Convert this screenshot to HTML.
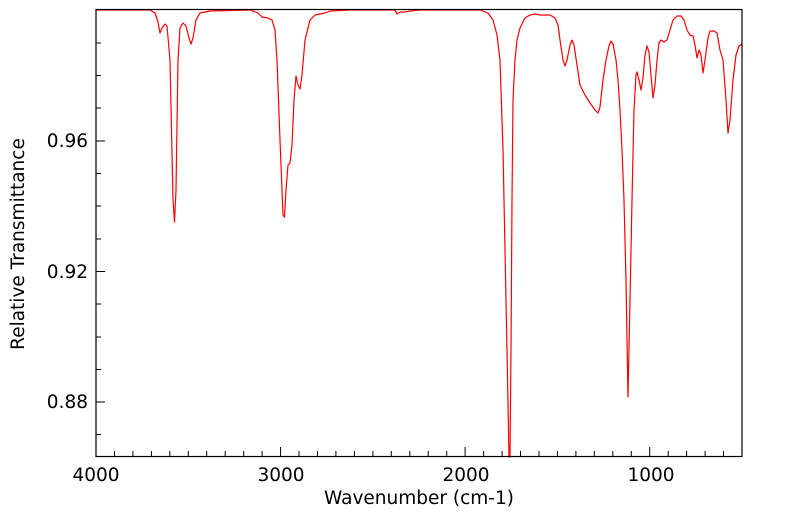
<!DOCTYPE html>
<html><head><style>body{margin:0;background:#fff}svg{display:block}text{font-family:"DejaVu Sans","Liberation Sans",sans-serif;fill:#000}</style></head>
<body>
<svg width="799" height="516" viewBox="0 0 799 516">
<g stroke="#000" stroke-width="1">
<line x1="96" y1="456" x2="96" y2="447"/><line x1="114.5" y1="456" x2="114.5" y2="451"/><line x1="132.9" y1="456" x2="132.9" y2="451"/><line x1="151.4" y1="456" x2="151.4" y2="451"/><line x1="169.8" y1="456" x2="169.8" y2="451"/><line x1="188.3" y1="456" x2="188.3" y2="451"/><line x1="206.7" y1="456" x2="206.7" y2="451"/><line x1="225.2" y1="456" x2="225.2" y2="451"/><line x1="243.7" y1="456" x2="243.7" y2="451"/><line x1="262.1" y1="456" x2="262.1" y2="451"/><line x1="280.6" y1="456" x2="280.6" y2="447"/><line x1="299" y1="456" x2="299" y2="451"/><line x1="317.5" y1="456" x2="317.5" y2="451"/><line x1="335.9" y1="456" x2="335.9" y2="451"/><line x1="354.4" y1="456" x2="354.4" y2="451"/><line x1="372.9" y1="456" x2="372.9" y2="451"/><line x1="391.3" y1="456" x2="391.3" y2="451"/><line x1="409.8" y1="456" x2="409.8" y2="451"/><line x1="428.2" y1="456" x2="428.2" y2="451"/><line x1="446.7" y1="456" x2="446.7" y2="451"/><line x1="465.1" y1="456" x2="465.1" y2="447"/><line x1="483.6" y1="456" x2="483.6" y2="451"/><line x1="502.1" y1="456" x2="502.1" y2="451"/><line x1="520.5" y1="456" x2="520.5" y2="451"/><line x1="539" y1="456" x2="539" y2="451"/><line x1="557.4" y1="456" x2="557.4" y2="451"/><line x1="575.9" y1="456" x2="575.9" y2="451"/><line x1="594.3" y1="456" x2="594.3" y2="451"/><line x1="612.8" y1="456" x2="612.8" y2="451"/><line x1="631.3" y1="456" x2="631.3" y2="451"/><line x1="649.7" y1="456" x2="649.7" y2="447"/><line x1="668.2" y1="456" x2="668.2" y2="451"/><line x1="686.6" y1="456" x2="686.6" y2="451"/><line x1="705.1" y1="456" x2="705.1" y2="451"/><line x1="723.5" y1="456" x2="723.5" y2="451"/>
<line x1="96" y1="43" x2="101" y2="43"/><line x1="96" y1="75.5" x2="101" y2="75.5"/><line x1="96" y1="108" x2="101" y2="108"/><line x1="96" y1="141" x2="105" y2="141"/><line x1="96" y1="173.5" x2="101" y2="173.5"/><line x1="96" y1="206" x2="101" y2="206"/><line x1="96" y1="239" x2="101" y2="239"/><line x1="96" y1="271.5" x2="105" y2="271.5"/><line x1="96" y1="304" x2="101" y2="304"/><line x1="96" y1="337" x2="101" y2="337"/><line x1="96" y1="369.5" x2="101" y2="369.5"/><line x1="96" y1="402" x2="105" y2="402"/><line x1="96" y1="434.5" x2="101" y2="434.5"/>
</g>
<path fill="none" stroke="#ff0000" stroke-width="1.2" stroke-linejoin="round" d="M96,10 L150,10 155,13 158,22 160,33 162,28 165,24 167,26 170,60 173,200 174.5,222 176,190 178,60 180,28 183,23 186,26 189,38 191,44 193,38 196,20 200,13 210,11 250,10 258,13 262,17 268,18 272,20 275,30 277,60 280,140 283,215 284.5,217 286,190 288,165 290,163 292,145 294,100 296,76 298,85 300,89 302,75 305,40 310,20 315,15 325,13 330,11 350,10 395,10 397,14 400,12 405,12 410,11 420,10 480,10 488,13 493,20 497,35 500,60 503,150 505,250 507,350 509,457 510,457 511,350 512,200 513,100 515,60 517,40 520,28 525,18 530,15 535,14 540,15 550,15 555,18 558,25 560,40 563,60 565,66 567,60 570,45 572,40 574,45 577,65 580,85 585,95 590,103 595,110 598,113 600,107 603,80 606,60 609,46 611,41 613,44 616,60 618,80 620,110 622,150 624,200 626,280 628,397 630,300 632,200 634,110 636,75 637,72 639,80 641,90 643,78 645,55 647,46 649,52 651,75 653,98 655,85 657,60 659,43 661,40 664,42 667,40 670,30 673,20 677,16 681,16 684,20 687,30 690,35 693,36 695,45 697,58 699,50 701,55 703,73 705,60 708,38 710,31 714,31 717,33 720,50 723,60 726,100 728,133 730,120 733,80 736,55 739,46 742,44"/>
<rect x="96" y="9.5" width="646" height="447" fill="none" stroke="#000" stroke-width="1.2"/>
<g font-size="18.5">
<text x="88" y="147" text-anchor="end">0.96</text>
<text x="88" y="278" text-anchor="end">0.92</text>
<text x="88" y="408" text-anchor="end">0.88</text>
<text x="96" y="481" text-anchor="middle">4000</text>
<text x="281" y="481" text-anchor="middle">3000</text>
<text x="466" y="481" text-anchor="middle">2000</text>
<text x="651" y="481" text-anchor="middle">1000</text>
<text x="419" y="504" text-anchor="middle">Wavenumber (cm-1)</text>
<text transform="translate(24,244) rotate(-90)" text-anchor="middle">Relative Transmittance</text>
</g>
</svg>
</body></html>
